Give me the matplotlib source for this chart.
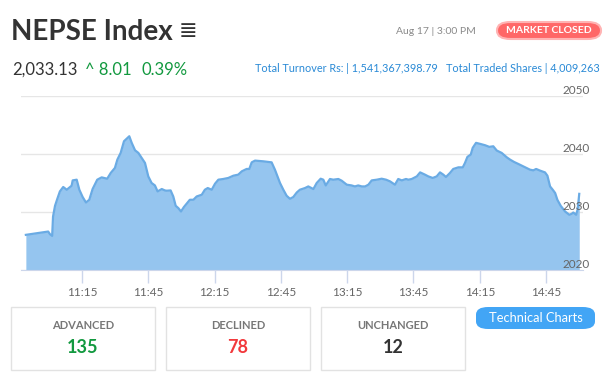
import matplotlib.pyplot as plt
from matplotlib.patches import FancyBboxPatch, Rectangle
import matplotlib.transforms as mtransforms

# minutes after 11:00 and index value
minutes = [-10.4, -0.3, 0.5, 1.5, 1.9, 2.8, 3.8, 5.0, 6.5, 8.1, 10.3, 10.8, 12.6, 13.8,
           15.3, 16.8, 18.3, 19.8, 21.9, 23.9, 26.4, 28.0, 29.9, 31.0, 32.5, 34.0, 36.4,
           37.5, 39.0, 40.5, 43.5, 45.0, 46.5, 48.0, 49.2, 51.1, 52.5, 53.3, 55.1, 56.3,
           57.4, 58.6, 59.8, 61.1, 63.8, 65.4, 66.9, 69.2, 70.6, 71.9, 73.7, 75.2, 76.7,
           78.9, 81.2, 83.5, 85.7, 87.3, 89.5, 90.7, 91.8, 93.3, 97.0, 99.3, 100.8, 102.3,
           104.6, 106.1, 107.6, 109.1, 110.6, 112.2, 113.6, 115.9, 117.4, 119.7, 121.2,
           123.0, 124.2, 125.3, 127.2, 128.7, 131.0, 132.5, 134.8, 137.0, 138.5, 140.0,
           141.6, 143.1, 144.6, 146.1, 148.4, 150.6, 152.6, 154.4, 156.6, 158.1, 159.7,
           161.6, 162.7, 164.2, 166.5, 168.0, 170.2, 171.7, 173.7, 175.5, 177.0, 178.5,
           179.7, 181.5, 183.0, 185.3, 187.3, 188.3, 189.4, 190.9, 191.8, 193.3, 195.1,
           197.4, 199.3, 201.1, 202.7, 204.9, 207.2, 208.7, 210.5, 212.4, 215.5, 217.7,
           219.2, 220.5, 222.3, 224.5, 225.6, 226.8, 228.0, 229.1, 230.1, 231.6, 233.6,
           235.5, 236.6, 237.3, 238.6, 239.3, 240.0]
index = [2026.06, 2026.63, 2026.18, 2025.88, 2029.22, 2031.07, 2032.23, 2033.55, 2034.31,
         2033.84, 2034.53, 2035.45, 2035.57, 2033.84, 2032.58, 2031.64, 2032.11, 2033.96,
         2035.57, 2035.97, 2035.74, 2036.73, 2037.60, 2039.03, 2040.19, 2042.20, 2043.06,
         2041.92, 2040.64, 2040.19, 2038.46, 2036.14, 2035.00, 2034.58, 2033.55, 2033.96,
         2033.72, 2033.67, 2033.72, 2032.68, 2031.07, 2030.67, 2030.09, 2030.85, 2032.11,
         2032.11, 2032.68, 2032.98, 2033.84, 2034.13, 2033.84, 2034.88, 2035.57, 2035.69,
         2035.87, 2036.26, 2036.44, 2037.01, 2037.42, 2037.42, 2038.56, 2038.86, 2038.74,
         2038.63, 2038.56, 2037.30, 2035.00, 2033.84, 2032.80, 2032.28, 2032.58, 2033.37,
         2033.84, 2034.13, 2034.41, 2033.96, 2035.00, 2035.74, 2035.57, 2034.58, 2035.69,
         2035.57, 2035.69, 2035.40, 2034.71, 2034.58, 2034.41, 2034.58, 2034.41, 2034.41,
         2034.71, 2035.45, 2035.57, 2035.74, 2035.57, 2035.28, 2034.71, 2035.69, 2035.45,
         2035.69, 2035.57, 2035.69, 2036.14, 2036.83, 2036.44, 2036.14, 2035.87, 2036.14,
         2036.83, 2036.44, 2036.04, 2036.73, 2037.42, 2037.70, 2037.70, 2038.46, 2039.50,
         2039.90, 2041.06, 2041.92, 2041.75, 2041.51, 2041.23, 2041.33, 2040.59, 2040.19,
         2039.43, 2039.03, 2038.63, 2038.29, 2037.70, 2037.30, 2037.18, 2037.42, 2037.13,
         2036.83, 2036.26, 2034.41, 2033.84, 2033.27, 2032.11, 2031.07, 2030.09, 2029.52,
         2029.69, 2029.91, 2029.52, 2030.50, 2033.13]

tick_labels = ['11:15', '11:45', '12:15', '12:45', '13:15', '13:45', '14:15', '14:45']
y_ticks = [2020, 2030, 2040, 2050]

stat_names = ['ADVANCED', 'DECLINED', 'UNCHANGED']
stat_values = [135, 78, 12]
stat_colors = ['#12993f', '#f2393c', '#333333']

W, H = 611, 377
plt.rcParams['font.family'] = ['Lato', 'DejaVu Sans']

fig = plt.figure(figsize=(W / 100, H / 100), dpi=100)

def fx(x):
    return x / W

def fy(y):
    return 1 - y / H

# chart area
ax = fig.add_axes([fx(21), fy(270), fx(583) - fx(21), fy(96) - fy(270)])
ax.fill_between(minutes, index, 2020, color='#95c5ef', lw=0)
ax.plot(minutes, index, color='#6aabe4', lw=1.6)
ax.set_xlim(-12.6, 241.7)
ax.set_ylim(2020, 2050)

tick_pos = [(int(t[:2]) - 11) * 60 + int(t[3:]) for t in tick_labels]
ax.set_xticks(tick_pos)
ax.set_xticklabels(tick_labels)
ax.tick_params(axis='x', length=9, width=1, color='#ccd6eb', labelcolor='#666666',
               labelsize=8.5, pad=3)
ax.set_yticks(y_ticks)
ax.tick_params(axis='y', left=False, labelleft=False)
ax.grid(axis='y', color='#e6e6e6', lw=1)
ax.set_axisbelow(True)
for s in ['top', 'left', 'right']:
    ax.spines[s].set_visible(False)
ax.spines['bottom'].set_color('#ccd6eb')

trans = mtransforms.blended_transform_factory(ax.transAxes, ax.transData)
for v in y_ticks:
    ax.text(1.0125, v, str(v), transform=trans, ha='right', va='bottom',
            fontsize=8.5, color='#666666', clip_on=False)

# header
fig.text(fx(11), fy(32), 'NEPSE Index', fontsize=20, fontweight='bold',
         color='#333333', va='center')
fig.text(fx(179), fy(31), '≣', fontsize=16, color='#333333', va='center',
         family='DejaVu Sans')
fig.text(fx(12), fy(70), '2,033.13', fontsize=12, color='#333333', va='center')
fig.text(fx(85), fy(70), '^ 8.01', fontsize=12, color='#12993f', va='center')
fig.text(fx(142), fy(70), '0.39%', fontsize=12, color='#12993f', va='center')

fig.text(fx(476), fy(31), 'Aug 17 | 3:00 PM', fontsize=7.5, color='#8a8a8a',
         va='center', ha='right')
badge = FancyBboxPatch((fx(497), fy(39)), fx(601) - fx(497), fy(22) - fy(39),
                       boxstyle='round,pad=0,rounding_size=0.022',
                       transform=fig.transFigure, fc='#ff6767', ec='#ffb3b3', lw=1.5)
fig.patches.append(badge)
fig.text(fx(549), fy(30.5), 'MARKET CLOSED', fontsize=7.5, fontweight='bold',
         color='white', va='center', ha='center')

fig.text(fx(600), fy(68), 'Total Turnover Rs: | 1,541,367,398.79   Total Traded Shares | 4,009,263',
         fontsize=7.85, color='#2a8ad6', va='center', ha='right')

# stat boxes
for i, (name, val, col) in enumerate(zip(stat_names, stat_values, stat_colors)):
    x0 = 11 + i * 155
    fig.patches.append(Rectangle((fx(x0), fy(370)), fx(144), fy(0) - fy(63),
                                 transform=fig.transFigure, fc='white',
                                 ec='#e2e2e2', lw=1))
    fig.text(fx(x0 + 72), fy(325.5), name, fontsize=8, fontweight='bold',
             color='#777777', ha='center', va='center')
    fig.text(fx(x0 + 72), fy(347.5), str(val), fontsize=13, fontweight='bold',
             color=col, ha='center', va='center')

btn = FancyBboxPatch((fx(476), fy(329)), fx(595) - fx(476), fy(307) - fy(329),
                     boxstyle='round,pad=0,rounding_size=0.02',
                     transform=fig.transFigure, fc='#42a5f5', ec='none')
fig.patches.append(btn)
fig.text(fx(535.5), fy(318), 'Technical Charts', fontsize=9.3, color='white',
         ha='center', va='center')

fig.savefig('out.png', dpi=100)
